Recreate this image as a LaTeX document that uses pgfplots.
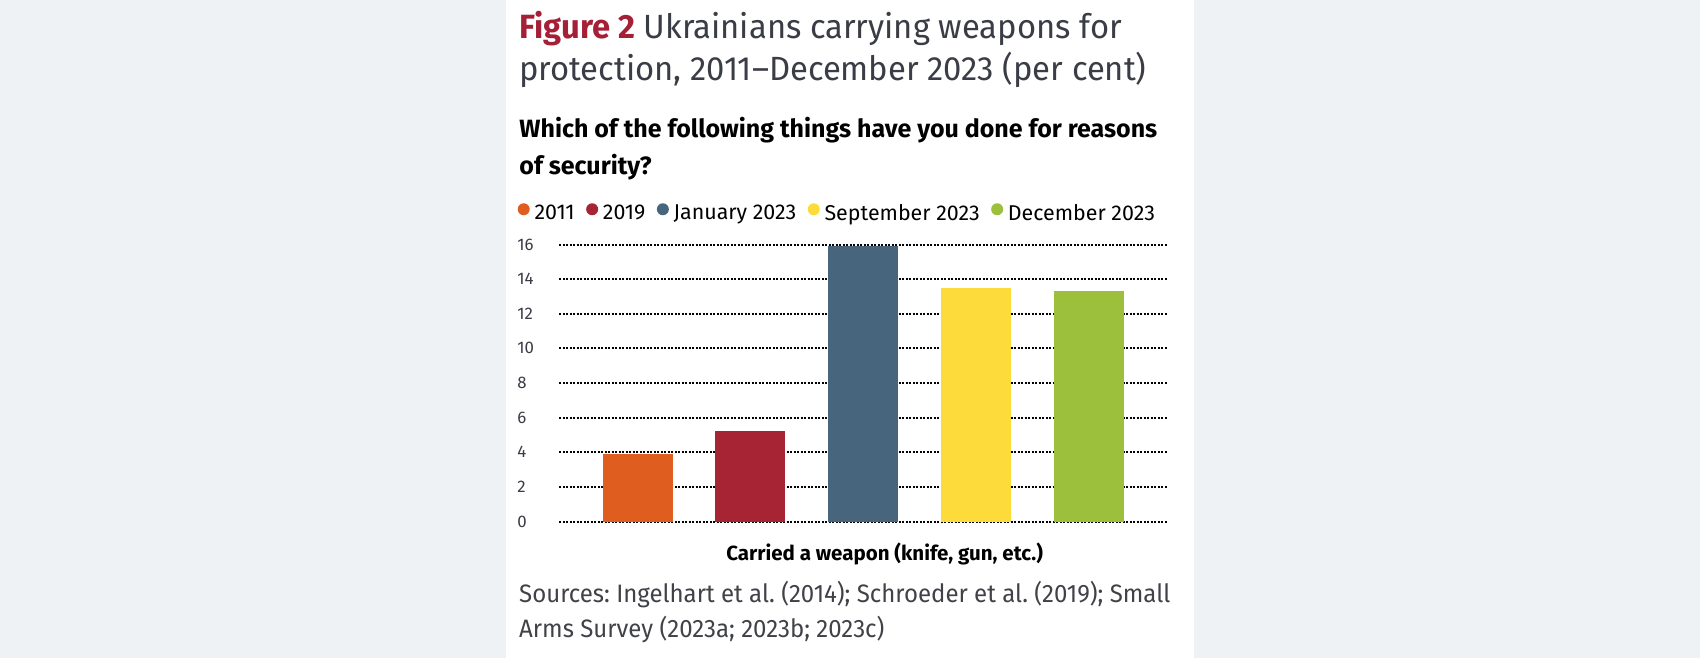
\documentclass[border=0pt]{standalone}
\usepackage{pgfplots}
\pgfplotsset{compat=1.18}
\usepackage{fontspec}
\setmainfont{Fira Sans}
\newfontfamily\titlefont{Fira Sans}[FakeStretch=0.975]
\newfontfamily\srcfont{Fira Sans}[FakeStretch=0.953]
\frenchspacing
\definecolor{bgc}{HTML}{EEF2F5}
\definecolor{figred}{HTML}{A51F37}
\definecolor{titlegray}{HTML}{3B3D46}
\definecolor{srcgray}{HTML}{404247}
\definecolor{c1}{HTML}{DF5E1F}
\definecolor{c2}{HTML}{A62434}
\definecolor{c3}{HTML}{47667E}
\definecolor{c4}{HTML}{FDDB3A}
\definecolor{c5}{HTML}{9DC03C}
\begin{document}
\begin{tikzpicture}
\useasboundingbox (0,0) rectangle (850bp,-329bp);
\fill[bgc] (0,0) rectangle (850bp,-329bp);
\fill[white] (253bp,0) rectangle (597.2bp,-329bp);
\node[anchor=base west, inner sep=0pt, text=titlegray, font=\titlefont\fontsize{16.8bp}{20bp}\selectfont] at (259.5bp,-19bp) {\textcolor{figred}{\bfseries Figure 2} Ukrainians carrying weapons for};
\node[anchor=base west, inner sep=0pt, text=titlegray, font=\titlefont\fontsize{16.8bp}{20bp}\selectfont] at (259.5bp,-40bp) {protection, 2011–December 2023 (per cent)};
\node[anchor=base west, inner sep=0pt, text=black, font=\fontsize{12.5bp}{15bp}\selectfont\bfseries] at (259.5bp,-68.65bp) {Which of the following things have you done for reasons};
\node[anchor=base west, inner sep=0pt, text=black, font=\fontsize{12.5bp}{15bp}\selectfont\bfseries] at (259.5bp,-87bp) {of security?};
\node[anchor=base, inner sep=0pt, text=black, font=\fontsize{10.25bp}{12bp}\selectfont\bfseries] at (442.3bp,-280bp) {Carried a weapon (knife, gun, etc.)};
\node[anchor=base west, inner sep=0pt, text=srcgray, font=\srcfont\fontsize{12.6bp}{15bp}\selectfont] at (259.4bp,-301.35bp) {Sources: Ingelhart et al. (2014); Schroeder et al. (2019); Small};
\node[anchor=base west, inner sep=0pt, text=srcgray, font=\srcfont\fontsize{12.6bp}{15bp}\selectfont] at (259.4bp,-318.65bp) {Arms Survey (2023a; 2023b; 2023c)};
\begin{axis}[
  at={(279.5bp,-260.75bp)}, anchor=south west,
  scale only axis, width=304bp, height=138.5bp,
  xmin=-0.699, xmax=4.696, ymin=0, ymax=16,
  ytick={0,2,...,16}, xtick=\empty,
  ymajorgrids,
  grid style={black, line width=1bp, dash pattern=on 1bp off 0.75bp},
  axis line style={draw=none},
  major tick length=0pt,
  /pgf/number format/assume math mode=true,
  yticklabel style={anchor=west, inner sep=0pt, xshift=-21bp, text=titlegray, font=\fontsize{8.4bp}{10bp}\selectfont},
  ybar, bar width=35bp,
  legend columns=-1,
  legend style={at={(-0.0679,1.1126)}, anchor=west, draw=none, fill=none, inner sep=0pt, outer sep=0pt,
    font=\fontsize{10.7bp}{12bp}\selectfont, text=black,
    nodes={inner sep=0pt},
    /tikz/every odd column/.append style={column sep=2.4bp},
    /tikz/every even column/.append style={column sep=5.7bp}},
]
\addplot[fill=c1, draw=none, bar shift=0pt, legend image code/.code={\fill[c1] (3bp,2.3bp) circle (3bp);}] coordinates {(0,3.9)};
\addplot[fill=c2, draw=none, bar shift=0pt, legend image code/.code={\fill[c2] (3bp,2.3bp) circle (3bp);}] coordinates {(1,5.25)};
\addplot[fill=c3, draw=none, bar shift=0pt, legend image code/.code={\fill[c3] (3bp,2.3bp) circle (3bp);}] coordinates {(2,15.9)};
\addplot[fill=c4, draw=none, bar shift=0pt, legend image code/.code={\fill[c4] (3bp,2.3bp) circle (3bp);}] coordinates {(3,13.5)};
\addplot[fill=c5, draw=none, bar shift=0pt, legend image code/.code={\fill[c5] (3bp,2.3bp) circle (3bp);}] coordinates {(4,13.3)};
\legend{2011, 2019, January 2023, September 2023, December 2023}
\end{axis}
\end{tikzpicture}
\end{document}
